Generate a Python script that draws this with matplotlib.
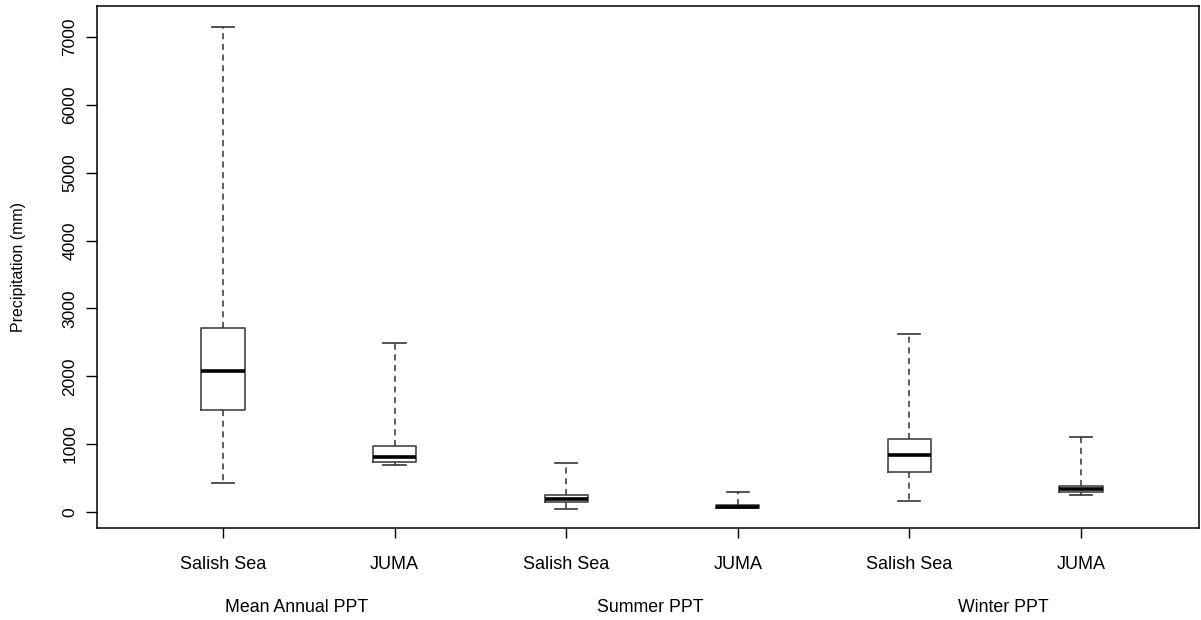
import matplotlib
matplotlib.use("Agg")
import matplotlib.pyplot as plt

plt.rcParams['font.family'] = ['Liberation Sans', 'DejaVu Sans']

# values (mm)
regions = ["Salish Sea", "JUMA", "Salish Sea", "JUMA", "Salish Sea", "JUMA"]
groups = ["Mean Annual PPT", "Summer PPT", "Winter PPT"]
whislo = [427, 697, 49, 55, 167, 255]
q1 = [1502, 741, 147, 59, 589, 295]
med = [2077, 814, 196, 78, 844, 334]
q3 = [2710, 967, 255, 99, 1070, 388]
whishi = [7143, 2495, 726, 290, 2626, 1100]
yticks = [0, 1000, 2000, 3000, 4000, 5000, 6000, 7000]

positions = list(range(1, len(regions) + 1))
group_x = [1.43, 3.49, 5.55]

stats = [dict(whislo=a, q1=b, med=c, q3=d, whishi=e, fliers=[])
         for a, b, c, d, e in zip(whislo, q1, med, q3, whishi)]

fig = plt.figure(figsize=(12.01, 6.2), dpi=100)
ax = fig.add_axes([97 / 1201, 1 - 528 / 620, (1199 - 97) / 1201, (528 - 6) / 620])

ax.bxp(stats, positions=positions, widths=0.252, showfliers=False,
       boxprops=dict(color="#444444", lw=1.2),
       medianprops=dict(color="black", lw=2.6, solid_capstyle="butt"),
       whiskerprops=dict(color="#333333", lw=1.1, ls=(0, (4, 3))),
       capprops=dict(color="#333333", lw=1.2),
       capwidths=0.13)

ax.set_xlim(0.266, 6.688)
ax.set_ylim(-236, 7457)
ax.set_yticks(yticks)
ax.set_yticklabels([str(v) for v in yticks], rotation=90, va="center", fontsize=12.5)
ax.set_xticks(positions)
ax.set_xticklabels(regions, fontsize=13)
ax.tick_params(axis="x", length=7, pad=13, width=1)
ax.tick_params(axis="y", length=8, pad=6, width=1)
ax.set_ylabel("Precipitation (mm)", fontsize=11.5)
ax.yaxis.set_label_coords(-0.0645, 0.5)

for s in ax.spines.values():
    s.set_linewidth(1.1)

for gx, g in zip(group_x, groups):
    ax.text(gx, -0.153, g, transform=ax.get_xaxis_transform(),
            ha="center", va="center", fontsize=12.8)

fig.savefig("out.png", dpi=100)
